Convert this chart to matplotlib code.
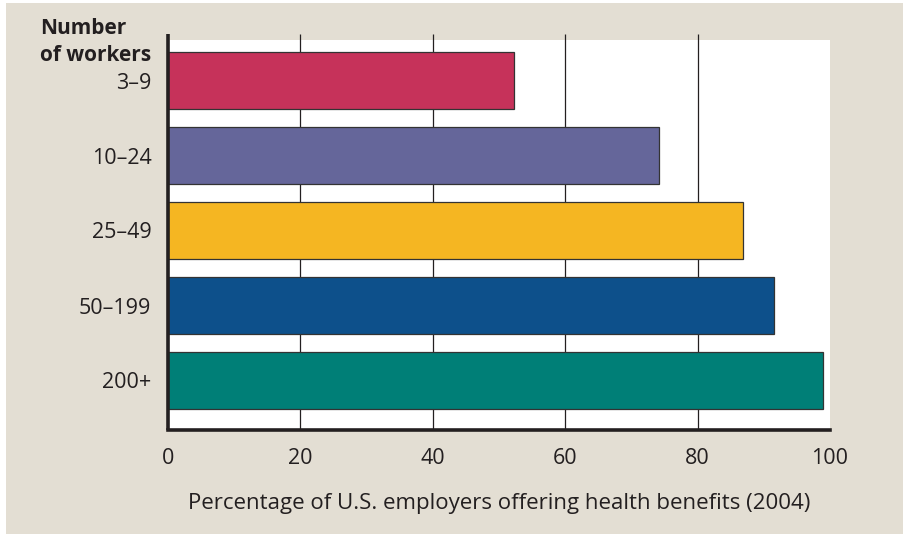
import matplotlib.pyplot as plt
from matplotlib.patches import Rectangle

# Data
groups = ['3–9', '10–24', '25–49', '50–199', '200+']
percent = [52.3, 74.2, 86.9, 91.5, 98.9]
bar_colors = ['#c6325a', '#65669a', '#f5b622', '#0d508b', '#007f77']
x_ticks = [0, 20, 40, 60, 80, 100]

BG = '#e3ded3'
INK = '#231f20'

plt.rcParams['font.family'] = ['Open Sans', 'DejaVu Sans']

fig = plt.figure(figsize=(9.04, 5.39), dpi=100)
fig.patch.set_facecolor('white')
# beige panel with a thin white border like the original
fig.patches.append(Rectangle((6 / 904, 5 / 539), 898 / 904, 531 / 539,
                             transform=fig.transFigure, facecolor=BG,
                             edgecolor='none', zorder=-1))

ax = fig.add_axes([168 / 904, 109 / 539, 662 / 904, 390 / 539])
ax.set_facecolor('white')

ypos = list(range(len(groups)))
ax.set_xlim(0, 100)
ax.set_ylim(4.66, -0.54)

# vertical grid lines poke a little above the white area
for x in x_ticks[1:-1]:
    ax.vlines(x, 4.66, -0.62, color=INK, lw=0.9, zorder=1, clip_on=False)

ax.barh(ypos, percent, height=0.76, color=bar_colors,
        edgecolor='#333333', linewidth=0.9, zorder=2)

# thick left axis line, also extended upward
ax.vlines(0, 4.66, -0.62, color=INK, lw=2.6, zorder=3, clip_on=False)

for side in ['top', 'right', 'left']:
    ax.spines[side].set_visible(False)
ax.spines['bottom'].set_color(INK)
ax.spines['bottom'].set_linewidth(2.6)
ax.spines['bottom'].set_zorder(3)

ax.set_yticks(ypos)
ax.set_yticklabels(groups)
ax.set_xticks(x_ticks)
ax.tick_params(axis='both', length=0, labelsize=15.5, colors=INK)
ax.tick_params(axis='y', pad=12)
ax.tick_params(axis='x', pad=13)

ax.set_xlabel('Percentage of U.S. employers offering health benefits (2004)',
              fontsize=16, color=INK, labelpad=17)

fig.text(151 / 904, 1 - 61 / 539, 'Number\nof workers', ha='right', va='baseline',
         multialignment='left', fontsize=15, fontweight='bold', color=INK,
         linespacing=1.35)

fig.savefig('out.png', dpi=100, facecolor=fig.get_facecolor())
